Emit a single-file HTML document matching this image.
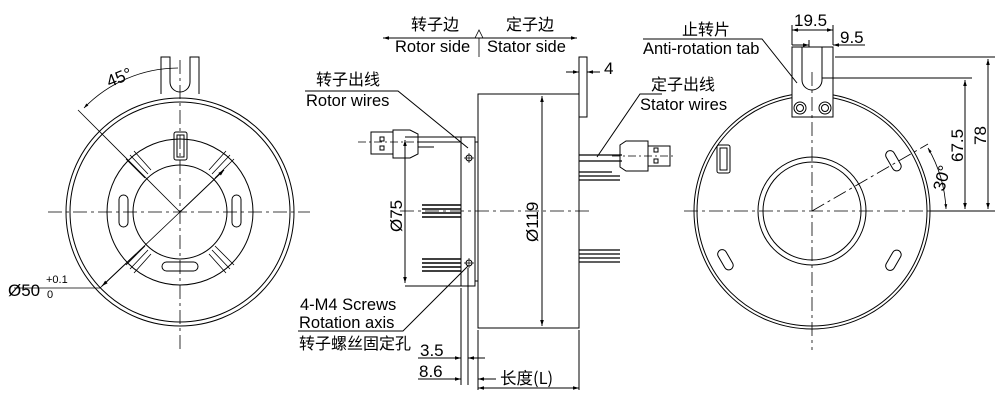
<!DOCTYPE html>
<html><head><meta charset="utf-8"><style>
html,body{margin:0;padding:0;background:#fff;}
svg{display:block;}
text{font-family:"Liberation Sans","Noto Sans CJK SC",sans-serif;fill:#000;}
.cn{font-family:"Noto Sans CJK SC","WenQuanYi Zen Hei",sans-serif;}
</style></head><body>
<svg width="1005" height="403" viewBox="0 0 1005 403" xmlns="http://www.w3.org/2000/svg">
<defs>
<marker id="a" viewBox="0 0 10 10" refX="10" refY="5" markerWidth="10" markerHeight="6" orient="auto-start-reverse"><path d="M0,2 L10,5 L0,8z" fill="#000"/></marker>
</defs>
<g fill="none" stroke="#000" stroke-width="1">
<!-- LEFT VIEW -->
<circle cx="180" cy="212" r="114"/>
<circle cx="180" cy="212" r="110"/>
<circle cx="180" cy="212" r="73"/>
<circle cx="180" cy="212" r="47"/>
<path d="M161,94 V57 H170 V82 A10,10 0 0 0 190,82 V57 H199 V94"/>
<rect x="174" y="132" width="13" height="28" rx="2"/>
<rect x="177" y="135" width="7" height="22"/>
<g stroke-width="0.8">
<path d="M126,159 L145,178 M130,155 L148,174 M134,151 L151,170"/>
<path d="M234,159 L215,178 M230,155 L212,174 M226,151 L209,170"/>
<path d="M126,265 L145,246 M130,269 L148,250 M134,273 L151,254"/>
<path d="M234,265 L215,246 M230,269 L212,250 M226,273 L209,254"/>
</g>
<rect x="119" y="195" width="9" height="32" rx="4.5"/>
<rect x="232" y="195" width="9" height="32" rx="4.5"/>
<rect x="162" y="262" width="36" height="9" rx="4.5"/>
<g stroke-dasharray="14,4,3,4" stroke-width="0.8">
<path d="M48,212 H310"/><path d="M180,60 V352"/>
</g>
<path d="M180,212 L100,288 H14" stroke-width="0.8"/>
<path d="M136,254 L102,286" marker-end="url(#a)"/>
<path d="M180,212 L224,170" marker-end="url(#a)"/>
<path d="M180,212 L78,110" stroke-width="0.8"/>
<path d="M84,108 A132,132 0 0 1 178,68" marker-start="url(#a)" stroke-width="0.8"/>

<!-- MIDDLE VIEW -->
<rect x="478" y="94" width="101" height="234"/>
<rect x="579" y="57" width="8" height="60"/>
<rect x="461" y="137" width="14" height="149"/>
<path d="M475,142 H478 M475,281 H478"/>
<path d="M400,211 H592" stroke-dasharray="14,4,3,4" stroke-width="0.8"/>
<path d="M405,137 H461 M405,286 H461"/>
<path d="M405,140 V283" marker-start="url(#a)" marker-end="url(#a)"/>
<path d="M542,96 V326" marker-start="url(#a)" marker-end="url(#a)"/>
<path d="M383,38 H577" marker-start="url(#a)" marker-end="url(#a)"/>
<path d="M475,38 L479,30 L483,38 M479,38 V57" stroke-width="0.8"/>
<path d="M566,72 H579" marker-end="url(#a)"/><path d="M600,72 H587" marker-end="url(#a)"/>
<!-- rotor usb -->
<rect x="371" y="132" width="22" height="22"/>
<rect x="380" y="137" width="4" height="4"/><rect x="380" y="146" width="4" height="4"/>
<path d="M393,130 H410 L418,134 V154 L410,158 H393 Z"/>
<path d="M418,137 H461 M418,142 H461 M418,147 H434"/>
<path d="M358,142 H430" stroke-dasharray="8,3,2,3" stroke-width="0.7"/>
<!-- screws -->
<circle cx="469" cy="158" r="3"/><path d="M469,153 V163 M464,158 H474" stroke-width="0.7"/>
<circle cx="469" cy="263" r="3"/><path d="M469,258 V268 M464,263 H474" stroke-width="0.7"/>
<!-- wires rotor -->
<path d="M422,205 H461 M422,209 H461 M422,213 H461 M422,217 H461" stroke-width="1.4"/>
<path d="M422,259 H461 M422,263 H461 M422,267 H461 M422,271 H461" stroke-width="1.4"/>
<!-- stator wires -->
<path d="M579,155 H622 M579,161 H622 M579,172 H612 M579,176 H620 M579,180 H620" stroke-width="1.2"/>
<path d="M579,250 H620 M579,254 H620 M579,258 H620 M579,262 H620" stroke-width="1.2"/>
<path d="M620,145 L626,141 H648 V171 H626 L620,167 Z"/>
<rect x="648" y="146" width="22" height="20"/>
<rect x="654" y="148" width="4" height="4"/><rect x="654" y="159" width="4" height="4"/>
<path d="M612,156 H676" stroke-dasharray="8,3,2,3" stroke-width="0.7"/>
<!-- leaders -->
<path d="M305,91 H398 L468,148"/>
<path d="M298,331 H403 L468,266"/>
<path d="M662,94 H640 L597,157"/>
<!-- bottom dims -->
<path d="M461,288 V385 M468,268 V385 M478,330 V390 M579,330 V390"/>
<path d="M418,358 H461" marker-end="url(#a)"/><path d="M485,358 H468" marker-end="url(#a)"/>
<path d="M418,379 H461" marker-end="url(#a)"/><path d="M496,379 H478" marker-end="url(#a)"/>
<path d="M478,388 H579" marker-start="url(#a)" marker-end="url(#a)"/>

<!-- RIGHT VIEW -->
<circle cx="812" cy="211" r="118"/>
<circle cx="812" cy="211" r="115"/>
<circle cx="812" cy="211" r="54"/>
<circle cx="812" cy="211" r="49"/>
<path d="M792,117 V47 H833 V117 Z" fill="#fff"/>
<path d="M802,47 V80 A10,10 0 0 0 822,80 V47"/>
<circle cx="800" cy="108" r="6"/><circle cx="800" cy="108" r="3.5"/>
<circle cx="825" cy="108" r="6"/><circle cx="825" cy="108" r="3.5"/>
<rect x="717" y="145" width="13" height="28" rx="2"/><rect x="720" y="148" width="7" height="22"/>
<rect x="889" y="150" width="9" height="22" rx="4.5" transform="rotate(-30 893 161)"/>
<rect x="721" y="249" width="9" height="22" rx="4.5" transform="rotate(-30 725 260)"/>
<rect x="889" y="249" width="9" height="22" rx="4.5" transform="rotate(30 893 260)"/>
<g stroke-dasharray="14,4,3,4" stroke-width="0.8">
<path d="M684,211 H930"/><path d="M812,72 V350"/><path d="M812,211 L928,144"/>
</g>
<path d="M835,57 H995 M822,78 H972 M930,211 H995"/>
<path d="M988,59 V209" marker-start="url(#a)" marker-end="url(#a)"/>
<path d="M965,80 V209" marker-start="url(#a)" marker-end="url(#a)"/>
<path d="M928,148 A134,134 0 0 1 946,209" marker-start="url(#a)" marker-end="url(#a)" stroke-width="0.8"/>
<path d="M792,45 V25 M833,45 V25 M809,47 V40"/>
<path d="M792,30 H833" marker-start="url(#a)" marker-end="url(#a)"/>
<path d="M792,45 H809" marker-end="url(#a)"/><path d="M850,45 H833" marker-end="url(#a)"/>
<path d="M833,45 H865"/>
<path d="M643,39 H762 L797,83"/>
</g>

<!-- TEXT -->
<text x="106" y="82" font-size="17" transform="rotate(-22 122 76)">45°</text>
<text x="8" y="296" font-size="17">Ø50</text>
<text x="46" y="283" font-size="11">+0.1</text>
<text x="47" y="298" font-size="11">0</text>
<text x="411" y="30" font-size="16" class="cn">转子边</text>
<text x="506" y="30" font-size="16" class="cn">定子边</text>
<text x="395" y="52" font-size="16.5">Rotor side</text>
<text x="487" y="52" font-size="16.5">Stator side</text>
<text x="604" y="74" font-size="17">4</text>
<text x="316" y="85" font-size="16" class="cn">转子出线</text>
<text x="306" y="106" font-size="16.5">Rotor wires</text>
<text x="651" y="90" font-size="16" class="cn">定子出线</text>
<text x="640" y="110" font-size="16.5">Stator wires</text>
<text x="402" y="232" font-size="17" transform="rotate(-90 402 232)">Ø75</text>
<text x="538" y="242" font-size="17" transform="rotate(-90 538 242)">Ø119</text>
<text x="300" y="310" font-size="16.5">4-M4 Screws</text>
<text x="299" y="328" font-size="16.5">Rotation axis</text>
<text x="299" y="349" font-size="16" class="cn">转子螺丝固定孔</text>
<text x="420" y="356" font-size="17">3.5</text>
<text x="419" y="377" font-size="17">8.6</text>
<text x="500" y="384" font-size="16.5" class="cn">长度(L)</text>
<text x="682" y="35" font-size="16" class="cn">止转片</text>
<text x="643" y="54" font-size="16.5">Anti-rotation tab</text>
<text x="794" y="26" font-size="17">19.5</text>
<text x="840" y="43" font-size="17">9.5</text>
<text x="963" y="162" font-size="17" transform="rotate(-90 963 162)">67.5</text>
<text x="986" y="145" font-size="17" transform="rotate(-90 986 145)">78</text>
<text x="944" y="192" font-size="17" transform="rotate(-75 944 192)">30°</text>
</svg>
</body></html>
